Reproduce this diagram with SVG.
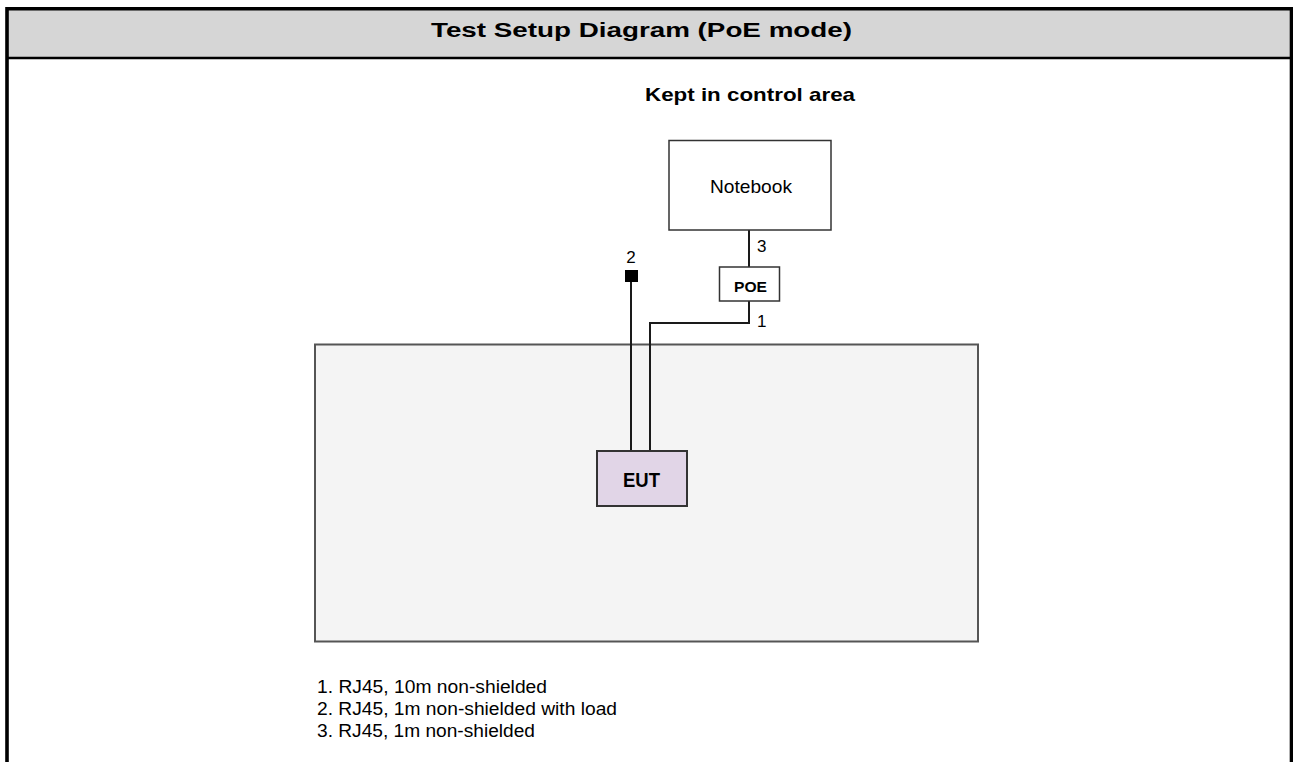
<svg xmlns="http://www.w3.org/2000/svg" width="1293" height="762" viewBox="0 0 1293 762">
<style>
text{font-family:"Liberation Sans",Arial,sans-serif;fill:#000}
.b{font-weight:bold}
.wire{fill:none;stroke:#1a1a1a;stroke-width:2}
.box{fill:#fff;stroke:#333;stroke-width:1.5}
</style>
<g id="frame">
<rect x="0" y="0" width="1293" height="762" fill="#fff"/>
<rect x="8" y="10" width="1283" height="47" fill="#d6d6d6"/>
<path d="M7 762V8.8H1291.5V762" fill="none" stroke="#000" stroke-width="3.6"/>
<line x1="6" y1="58" x2="1292" y2="58" stroke="#000" stroke-width="2.5"/>
<text x="431" y="37" class="b" font-size="20" textLength="421" lengthAdjust="spacingAndGlyphs">Test Setup Diagram (PoE mode)</text>
</g>
<text x="645" y="101" class="b" font-size="19" textLength="210" lengthAdjust="spacingAndGlyphs">Kept in control area</text>
<g id="area"><rect x="315" y="344.5" width="663" height="297" fill="#f4f4f4" stroke="#555" stroke-width="2"/></g>
<g id="connectors">
<path class="wire" d="M749 230V267"/>
<path class="wire" d="M749 301V323H650V451"/>
<path class="wire" d="M631 282V451"/>
<rect x="625" y="270" width="13" height="12" fill="#000"/>
<text x="757" y="252" font-size="17">3</text>
<text x="757" y="327" font-size="17">1</text>
<text x="631" y="263" text-anchor="middle" font-size="17">2</text>
</g>
<g id="notebook"><rect class="box" x="669" y="140.5" width="162" height="89.5"/><text x="710" y="193" font-size="19" textLength="82" lengthAdjust="spacingAndGlyphs">Notebook</text></g>
<g id="poe"><rect class="box" x="719.5" y="267" width="60" height="34"/><text x="734" y="292" class="b" font-size="14.5" textLength="33" lengthAdjust="spacingAndGlyphs">POE</text></g>
<g id="eut"><rect x="597" y="451" width="90" height="55" fill="#e1d5e7" stroke="#333" stroke-width="2"/><text x="623" y="487" class="b" font-size="19.5" textLength="37" lengthAdjust="spacingAndGlyphs">EUT</text></g>
<g id="legend" font-size="17.5">
<text x="317" y="693" textLength="230" lengthAdjust="spacingAndGlyphs">1. RJ45, 10m non-shielded</text>
<text x="317" y="715" textLength="300" lengthAdjust="spacingAndGlyphs">2. RJ45, 1m non-shielded with load</text>
<text x="317" y="737" textLength="218" lengthAdjust="spacingAndGlyphs">3. RJ45, 1m non-shielded</text>
</g>
</svg>
